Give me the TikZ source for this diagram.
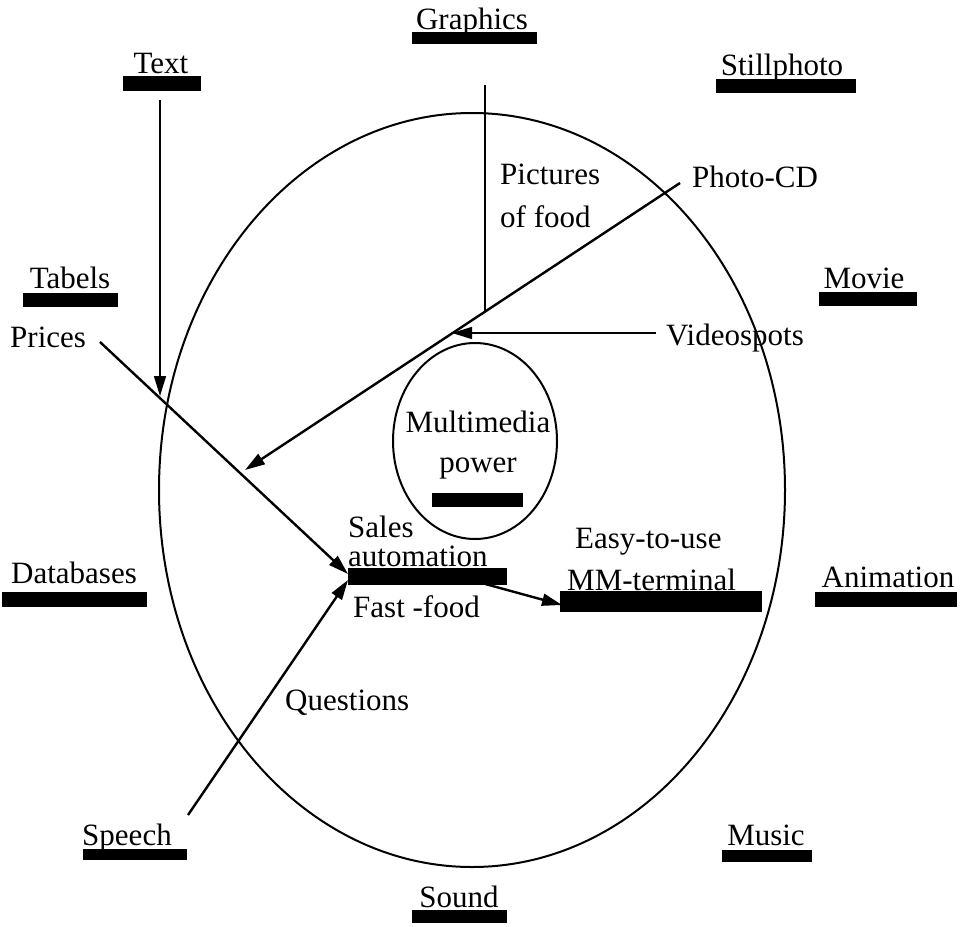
\documentclass[tikz,border=0pt]{standalone}
\usepackage{fontspec}
\setmainfont{Liberation Serif}
\usetikzlibrary{arrows.meta,shapes.geometric}

\begin{document}
\begin{tikzpicture}[x=1pt,y=-1pt,
  txt/.style={inner sep=0pt,font=\fontsize{31}{36}\selectfont},
  lbl/.style={txt,anchor=base},
  lft/.style={txt,anchor=base west},
  ring/.style={draw,ellipse,line width=2pt,inner sep=0pt},
  feed/.style={line width=2.4pt,-{Triangle[length=20pt,width=12pt]}},
  plain/.style={line width=2.4pt},
  bar/.style={fill=black}
]
\useasboundingbox (0,0) rectangle (966,926);

% outer circle and inner core
\node[ring,minimum width=626pt,minimum height=754pt] (outer) at (472,490) {};
\node[ring,minimum width=164pt,minimum height=196pt] (core) at (475,441) {};

% media labels round the circle, each with its black bar
\node[lbl] (graphics) at (472,29) {Graphics};
\fill[bar] (412,32) rectangle (537,44);
\node[lbl] (text) at (161,73) {Text};
\fill[bar] (123,76) rectangle (201,91);
\node[lbl] (still) at (782,75) {Stillphoto};
\fill[bar] (716,79) rectangle (856,93);
\node[lbl] (tabels) at (70,288) {Tabels};
\fill[bar] (23,293) rectangle (118,307);
\node[lbl] (movie) at (864,288) {Movie};
\fill[bar] (819,292) rectangle (917,306);
\node[lbl] (db) at (74,583) {Databases};
\fill[bar] (2,592) rectangle (147,607);
\node[lbl] (anim) at (888,587) {Animation};
\fill[bar] (815,592) rectangle (957,607);
\node[lbl] (speech) at (127,845) {Speech};
\fill[bar] (83,849) rectangle (187,860);
\node[lbl] (music) at (766,845) {Music};
\fill[bar] (722,850) rectangle (812,862);
\node[lbl] (sound) at (459,907) {Sound};
\fill[bar] (412,910) rectangle (507,923);

% inner texts
\node[lft] (pict) at (500,184) {Pictures};
\node[lft] (food) at (500,227) {of food};
\node[lft] (photocd) at (692,187) {Photo-CD};
\node[lft] (prices) at (10,347) {Prices};
\node[lft] (video) at (666,345) {Videospots};
\node[lbl] (mm) at (478,432) {Multimedia};
\node[lbl] (power) at (478,472) {power};
\fill[bar] (432,493) rectangle (523,507);
\node[lft] (sales) at (348,537) {Sales};
\node[lft] (auto) at (348,566) {automation};
\fill[bar] (348,568) rectangle (507,585);
\node[lft] (fast) at (353,617) {Fast -food};
\node[lft] (easy) at (575,548) {Easy-to-use};
\node[lft] (term) at (567,590) {MM-terminal};
\fill[bar] (560,591) rectangle (762,612);
\node[lft] (quest) at (285,710) {Questions};

% connector end points
\coordinate (textTop) at (160,100);
\coordinate (textEnd) at (160,396);
\coordinate (grTop) at (485,85);
\coordinate (grEnd) at (485,311);
\coordinate (cdStart) at (680,183);
\coordinate (cdEnd) at (245,470);
\coordinate (vidStart) at (656,333);
\coordinate (vidEnd) at (452,333);
\coordinate (prStart) at (100,342);
\coordinate (salesIn) at (348,574);
\coordinate (spStart) at (188,815);
\coordinate (salesIn2) at (348,580);
\coordinate (salesOut) at (478,582);
\coordinate (termIn) at (562,605);

% connectors
\draw[feed,line width=1.6pt] (textTop) -- (textEnd);
\draw[plain,line width=1.6pt] (grTop) -- (grEnd);
\draw[feed] (cdStart) -- (cdEnd);
\draw[feed,line width=1.6pt] (vidStart) -- (vidEnd);
\draw[feed] (prStart) -- (salesIn);
\draw[feed] (spStart) -- (salesIn2);
\draw[feed] (salesOut) -- (termIn);
\end{tikzpicture}
\end{document}
